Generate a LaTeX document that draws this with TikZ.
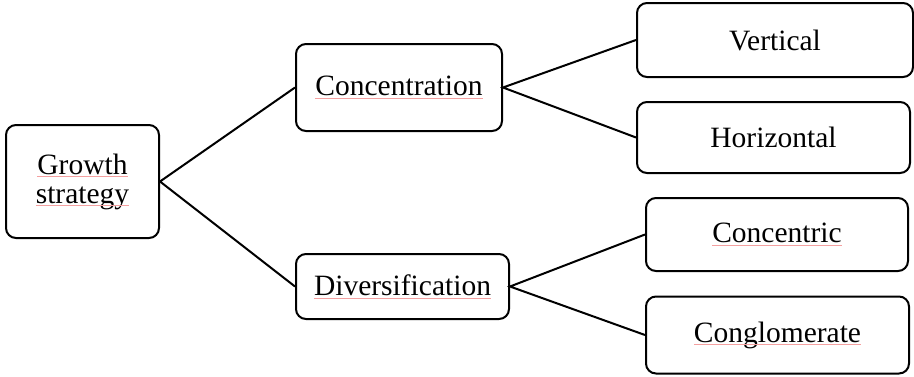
\documentclass[tikz,border=0pt]{standalone}
\usepackage{fontspec}
\setmainfont{Liberation Serif}
\definecolor{spellred}{RGB}{244,160,160}
% faint underline marking a flagged word
\newcommand\spellmark[1]{\setbox0\hbox{#1}\copy0\llap{\textcolor{spellred}{\rule[-3pt]{\wd0}{0.8pt}}}}
\begin{document}
\begin{tikzpicture}[x=1pt,y=-1pt,
  stagebox/.style={draw,line width=2pt,rounded corners=10pt,inner sep=0pt,align=center,
    font=\fontsize{29.5}{29}\selectfont},
  link/.style={line width=2pt}]
\useasboundingbox (0,0) rectangle (914,376);
\node[stagebox,minimum width=153pt,minimum height=113pt] (gs) at (82.5,181.5) {\spellmark{Growth}\\\spellmark{strategy}};
\node[stagebox,minimum width=206pt,minimum height=87pt] (conc) at (399,87.5) {\spellmark{Concentration}};
\node[stagebox,minimum width=213pt,minimum height=65pt] (div) at (402.5,286.5) {\spellmark{Diversification}};
\node[stagebox,minimum width=276pt,minimum height=74pt] (vert) at (775,40) {Vertical};
\node[stagebox,minimum width=273pt,minimum height=71pt] (hor) at (773.5,137.5) {Horizontal};
\node[stagebox,minimum width=262pt,minimum height=73pt] (cent) at (777,234.5) {\spellmark{Concentric}};
\node[stagebox,minimum width=263pt,minimum height=77pt] (cong) at (777.5,335) {\spellmark{Conglomerate}};
\draw[link] (conc.west) -- (gs.east) -- (div.west);
\draw[link] (vert.west) -- (conc.east) -- (hor.west);
\draw[link] (cent.west) -- (div.east) -- (cong.west);
\end{tikzpicture}
\end{document}
